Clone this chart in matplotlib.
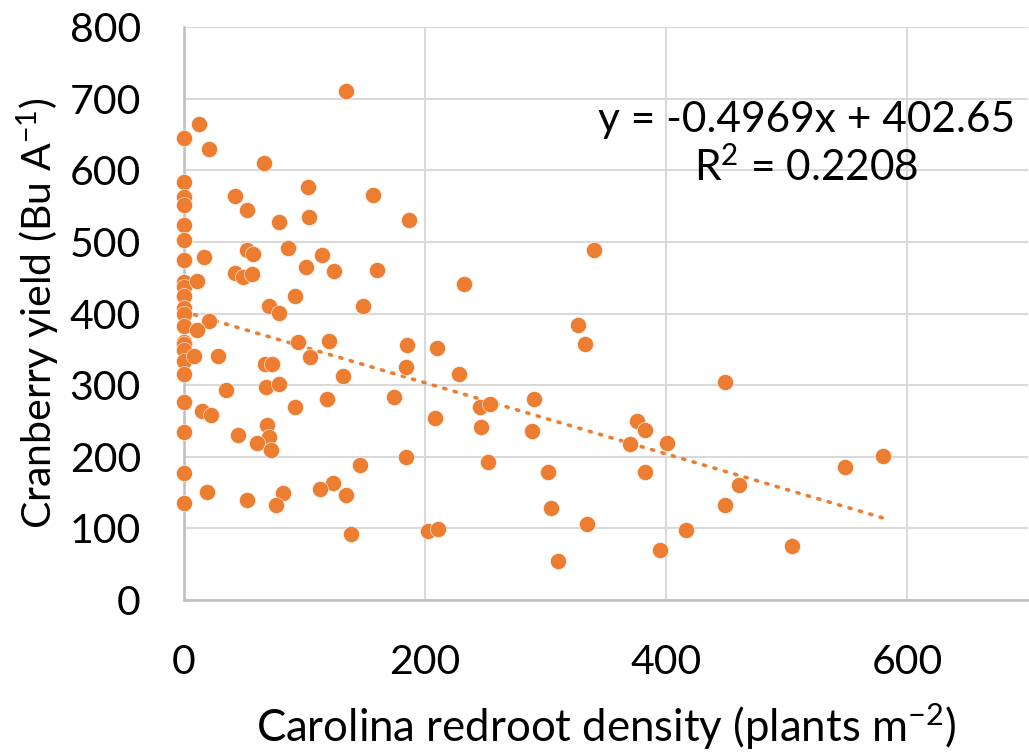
import numpy as np
import matplotlib
matplotlib.use("Agg")
import matplotlib.pyplot as plt

plt.rcParams['font.family'] = ['Lato', 'DejaVu Sans']
plt.rcParams['mathtext.fontset'] = 'custom'
plt.rcParams['mathtext.rm'] = 'Lato'
plt.rcParams['mathtext.default'] = 'regular'

# Carolina redroot density (plants m-2) and cranberry yield (Bu A-1)
density = [0, 0, 0, 0, 0, 0, 0, 0, 0, 0, 0, 0, 0, 0, 0, 0, 0, 0, 0, 0, 0, 0,
           12.7, 20.5, 66.4, 42.6, 52.5, 78.6, 103, 104, 86.6, 52.5, 57.5, 16.6,
           42.6, 48.7, 56.4, 11, 101, 92, 70.5, 78.6, 20.5, 10.5, 94.6, 8.3,
           28.5, 67, 72.8, 34.9, 68, 78.6, 92.4, 14.7, 22.4, 68.6, 70.5, 44.5,
           60.3, 72.5, 18.8, 52.5, 82.4, 76.6,
           134.4, 156.6, 186.5, 114.5, 124.5, 160.4, 232.4, 148.3, 120.6, 184.8,
           210.2, 104.6, 132.2, 184.2, 228.5, 118.4, 174.5, 208.3, 245.6, 254,
           246, 252.5, 184.2, 146.3, 124, 112.6, 134.4, 138.3, 202, 210.5,
           340.2, 326.4, 332.2, 289.9, 288.5, 302.3, 304.3, 310.4, 334.2, 375.7,
           382, 370.1, 400.6, 382, 416, 394.5,
           448.4, 460.3, 448.4, 504.3, 548, 580]
yield_bu = [645, 583, 562, 552, 523, 503, 475, 444, 437, 425, 407, 400, 383, 360,
            358, 349, 334, 316, 277, 234, 177, 136,
            664, 630, 610, 564, 544, 528, 576, 535, 492, 488, 483, 479,
            457, 451, 455, 445, 465, 424, 410, 401, 389, 377, 360, 340,
            341, 330, 330, 293, 297, 302, 270, 264, 258, 245, 227, 231,
            219, 209, 151, 139, 149, 132,
            711, 565, 531, 482, 460, 461, 441, 410, 361, 356,
            352, 339, 313, 326, 315, 281, 283, 254, 270, 273,
            242, 193, 199, 189, 164, 155, 147, 92, 97, 99,
            488, 384, 358, 281, 236, 179, 128, 55, 106, 250,
            238, 218, 219, 179, 98, 70,
            304, 161, 133, 75, 185, 201]

slope = -0.4969
intercept = 402.65
r2 = 0.2208

orange = '#ED7D31'

fig = plt.figure(figsize=(10.29, 7.53), dpi=100)
ax = fig.add_axes([0.1788, 0.2032, 0.8202, 0.7609])

ax.scatter(density, yield_bu, s=135, color=orange, edgecolors='white',
           linewidths=0.4, zorder=3, clip_on=False)

# linear trendline
tx = np.array([0, max(density)])
ax.plot(tx, slope * tx + intercept, color=orange, lw=2.6,
        linestyle=(0, (0.6, 2.4)), dash_capstyle='round', zorder=2)

ax.text(516, 636, 'y = %.4fx + %.2f\nR$^{2}$ = %.4f' % (slope, intercept, r2),
        ha='center', va='center', multialignment='center', fontsize=30.5,
        linespacing=1.2)

ax.set_xlim(0, 700)
ax.set_ylim(0, 800)
ax.set_xticks([0, 200, 400, 600])
ax.set_yticks(range(0, 801, 100))
ax.grid(True, color='#D9D9D9', lw=1.5)
ax.set_axisbelow(True)
for s in ['top', 'right']:
    ax.spines[s].set_visible(False)
for s in ['left', 'bottom']:
    ax.spines[s].set_color('#BFBFBF')
    ax.spines[s].set_linewidth(1.8)
ax.tick_params(length=0, labelsize=29.5)
ax.tick_params(axis='y', pad=31)
ax.tick_params(axis='x', pad=32)

ax.set_xlabel('Carolina redroot density (plants m$^{-2}$)', fontsize=31.5)
ax.set_ylabel('Cranberry yield (Bu A$^{-1}$)', fontsize=29.5)
ax.xaxis.set_label_coords(0.5, -0.178)
ax.yaxis.set_label_coords(-0.1445, 0.5)

fig.savefig('out.png', dpi=100)
